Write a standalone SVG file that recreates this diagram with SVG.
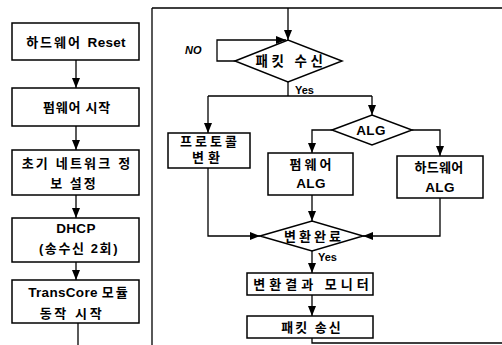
<svg xmlns="http://www.w3.org/2000/svg" width="502" height="345" viewBox="0 0 502 345">
<defs>
<marker id="ah" viewBox="0 0 10 8" refX="10" refY="4" markerWidth="11" markerHeight="8" markerUnits="userSpaceOnUse" orient="auto">
<path d="M0,0 L10,4 L0,8 Z" fill="#000"/>
</marker>
<style>
.b{fill:#fff;stroke:#000;stroke-width:1.5}
.c{fill:none;stroke:#000;stroke-width:1.3}
.a{marker-end:url(#ah)}
text{font-family:"Liberation Sans","Noto Sans CJK KR",sans-serif;font-weight:bold;font-size:13px;text-anchor:middle;fill:#000}
.s{font-size:11px;text-anchor:start}
.l{font-size:13.5px;letter-spacing:0.3px}
</style>
</defs>
<rect width="502" height="345" fill="#fff"/>
<g id="connectors">
<path class="c" d="M152,8 V345 M152,8 H502"/>
<path class="c a" d="M76,60 V88"/>
<path class="c a" d="M76,126 V150"/>
<path class="c a" d="M76,195 V218"/>
<path class="c a" d="M76,262 V280"/>
<path class="c" d="M78,323 V345"/>
<path class="c a" d="M288,8 V40"/>
<path class="c a" d="M235,61 H217 V40 H286"/>
<path class="c" d="M288,82 V96 M208,96 H372"/>
<path class="c a" d="M208,96 V133"/>
<path class="c a" d="M372,96 V115"/>
<path class="c a" d="M332,130 H312 V153"/>
<path class="c a" d="M412,130 H440 V156"/>
<path class="c a" d="M312,195 V221"/>
<path class="c a" d="M208,168 V236 H260"/>
<path class="c a" d="M440,198 V236 H363"/>
<path class="c a" d="M312,251 V273"/>
<path class="c a" d="M312,295 V316"/>
<path class="c" d="M312,338 V343 H502"/>
</g>
<g id="n1"><rect class="b" x="12" y="23" width="127" height="37"/><text x="76" y="47"><tspan style="letter-spacing:2px">하드웨어 </tspan><tspan class="l">Reset</tspan></text></g>
<g id="n2"><rect class="b" x="12" y="88" width="127" height="38"/><text x="77" y="112" style="letter-spacing:0.8px">펌웨어 시작</text></g>
<g id="n3"><rect class="b" x="12" y="150" width="127" height="45"/><text x="77" y="168" style="letter-spacing:2.2px">초기 네트워크 정</text><text x="74" y="188" style="letter-spacing:2px">보 설정</text></g>
<g id="n4"><rect class="b" x="12" y="218" width="127" height="44"/><text class="l" x="76" y="233">DHCP</text><text x="79" y="253" style="letter-spacing:1.6px">(송수신 2회)</text></g>
<g id="n5"><rect class="b" x="12" y="280" width="127" height="43"/><text x="79" y="297"><tspan class="l">TransCore </tspan><tspan style="letter-spacing:2px">모듈</tspan></text><text x="72" y="318" style="letter-spacing:2.6px">동작 시작</text></g>
<g id="d1"><polygon class="b" points="235,61 288,40 342,61 288,82"/><text x="291" y="66" style="font-size:13.5px;letter-spacing:3.5px">패킷 수신</text></g>
<text class="s" x="295" y="94">Yes</text>
<text x="185" y="54" style="font-style:italic;font-size:11px;text-anchor:start">NO</text>
<g id="n6"><rect class="b" x="168" y="133" width="82" height="35"/><text x="210" y="146" style="letter-spacing:3px">프로토콜</text><text x="208" y="162" style="letter-spacing:4px">변환</text></g>
<g id="d2"><polygon class="b" points="332,130 372,115 412,130 372,145"/><text class="l" x="371" y="135">ALG</text></g>
<g id="n7"><rect class="b" x="268" y="153" width="85" height="42"/><text x="312" y="169" style="letter-spacing:3px">펌웨어</text><text class="l" x="311" y="188">ALG</text></g>
<g id="n8"><rect class="b" x="397" y="156" width="86" height="42"/><text x="439" y="172" style="letter-spacing:0.3px">하드웨어</text><text class="l" x="440" y="192">ALG</text></g>
<g id="d3"><polygon class="b" points="260,236 312,221 363,236 312,251"/><text x="314" y="241" style="letter-spacing:3px">변환완료</text></g>
<text class="s" x="318" y="261">Yes</text>
<g id="n9"><rect class="b" x="247" y="273" width="126" height="22"/><text x="313" y="289" style="letter-spacing:4px">변환결과 모니터</text></g>
<g id="n10"><rect class="b" x="247" y="316" width="126" height="22"/><text x="312" y="332" style="letter-spacing:2px">패킷 송신</text></g>
</svg>
